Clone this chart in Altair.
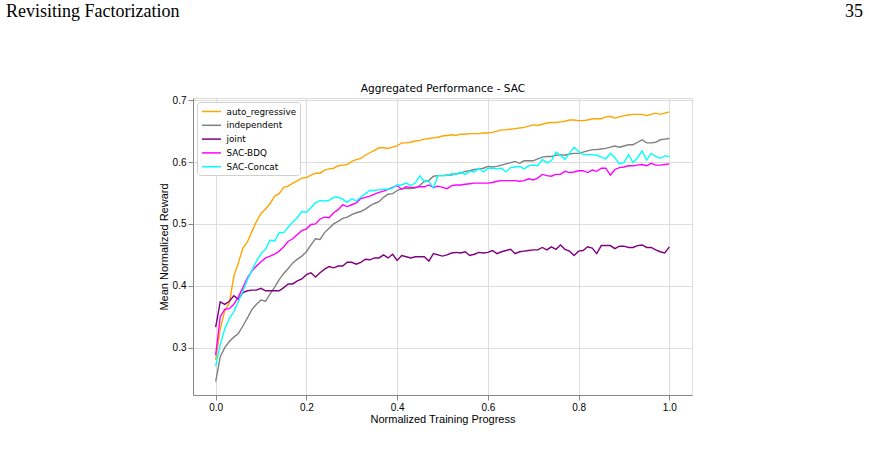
import altair as alt
import pandas as pd

header_left = "Revisiting Factorization"
header_right = "35"
chart_title = "Aggregated Performance - SAC"
x_title = "Normalized Training Progress"
y_title = "Mean Normalized Reward"

series_names = ["auto_regressive", "independent", "joint", "SAC-BDQ", "SAC-Concat"]
series_colors = ["#FFA500", "#808080", "#800080", "#FF00FF", "#00FFFF"]

x_ticks = [0.0, 0.2, 0.4, 0.6, 0.8, 1.0]
y_ticks = [0.3, 0.4, 0.5, 0.6, 0.7]

progress = [i / 100 for i in range(101)]

auto_regressive = [
    0.280, 0.330, 0.360, 0.372, 0.415, 0.437, 0.461, 0.471, 0.488, 0.504,
    0.517, 0.524, 0.533, 0.545, 0.549, 0.559, 0.561, 0.566, 0.570, 0.574,
    0.575, 0.579, 0.582, 0.582, 0.587, 0.589, 0.590, 0.594, 0.595, 0.596,
    0.601, 0.604, 0.606, 0.611, 0.615, 0.619, 0.623, 0.623, 0.622, 0.624,
    0.626, 0.631, 0.631, 0.632, 0.634, 0.635, 0.637, 0.638, 0.639, 0.640,
    0.642, 0.643, 0.644, 0.643, 0.645, 0.645, 0.646, 0.646, 0.646, 0.647,
    0.647, 0.648, 0.650, 0.652, 0.652, 0.653, 0.654, 0.655, 0.656, 0.658,
    0.660, 0.659, 0.661, 0.663, 0.664, 0.664, 0.665, 0.666, 0.668, 0.668,
    0.667, 0.667, 0.668, 0.670, 0.670, 0.670, 0.673, 0.674, 0.671, 0.673,
    0.675, 0.676, 0.677, 0.677, 0.677, 0.675, 0.677, 0.679, 0.677, 0.679,
    0.681,
]
independent = [
    0.245, 0.285, 0.300, 0.310, 0.317, 0.323, 0.335, 0.348, 0.362, 0.370,
    0.377, 0.375, 0.387, 0.398, 0.410, 0.420, 0.428, 0.437, 0.443, 0.448,
    0.455, 0.466, 0.476, 0.475, 0.486, 0.493, 0.500, 0.504, 0.509, 0.511,
    0.515, 0.518, 0.520, 0.524, 0.529, 0.533, 0.536, 0.543, 0.548, 0.549,
    0.554, 0.557, 0.557, 0.557, 0.558, 0.562, 0.569, 0.570, 0.577, 0.578,
    0.578, 0.579, 0.579, 0.581, 0.582, 0.585, 0.586, 0.588, 0.589, 0.590,
    0.593, 0.592, 0.593, 0.595, 0.597, 0.599, 0.601, 0.598, 0.602, 0.602,
    0.602, 0.605, 0.608, 0.609, 0.609, 0.611, 0.612, 0.611, 0.613, 0.614,
    0.614, 0.616, 0.618, 0.620, 0.620, 0.621, 0.622, 0.624, 0.626, 0.624,
    0.626, 0.628, 0.628, 0.632, 0.636, 0.631, 0.631, 0.632, 0.636, 0.637,
    0.638,
]
joint = [
    0.333, 0.374, 0.370, 0.375, 0.384, 0.378, 0.389, 0.392, 0.393, 0.393,
    0.396, 0.392, 0.392, 0.392, 0.392, 0.397, 0.403, 0.403, 0.408, 0.411,
    0.418, 0.421, 0.414, 0.421, 0.427, 0.431, 0.429, 0.432, 0.432, 0.438,
    0.438, 0.435, 0.438, 0.443, 0.442, 0.445, 0.445, 0.450, 0.445, 0.451,
    0.441, 0.449, 0.447, 0.445, 0.447, 0.447, 0.447, 0.440, 0.452, 0.450,
    0.448, 0.450, 0.453, 0.454, 0.453, 0.455, 0.449, 0.451, 0.454, 0.453,
    0.454, 0.457, 0.452, 0.455, 0.457, 0.459, 0.452, 0.455, 0.456, 0.457,
    0.458, 0.458, 0.462, 0.458, 0.463, 0.459, 0.466, 0.459, 0.456, 0.449,
    0.456, 0.457, 0.463, 0.461, 0.452, 0.465, 0.465, 0.465, 0.460, 0.464,
    0.464, 0.462, 0.462, 0.465, 0.466, 0.462, 0.462, 0.458, 0.455, 0.453,
    0.463,
]
sac_bdq = [
    0.288, 0.350, 0.362, 0.363, 0.370, 0.382, 0.397, 0.413, 0.424, 0.432,
    0.439, 0.445, 0.448, 0.451, 0.456, 0.463, 0.472, 0.476, 0.483, 0.489,
    0.492, 0.499, 0.500, 0.508, 0.511, 0.510, 0.518, 0.523, 0.531, 0.528,
    0.531, 0.534, 0.541, 0.543, 0.545, 0.548, 0.551, 0.553, 0.556, 0.559,
    0.562, 0.556, 0.560, 0.559, 0.559, 0.560, 0.560, 0.563, 0.559, 0.561,
    0.559, 0.557, 0.562, 0.563, 0.563, 0.564, 0.565, 0.566, 0.566, 0.566,
    0.566, 0.567, 0.569, 0.570, 0.570, 0.570, 0.570, 0.569, 0.570, 0.573,
    0.571, 0.574, 0.580, 0.578, 0.577, 0.580, 0.580, 0.585, 0.583, 0.584,
    0.586, 0.586, 0.583, 0.587, 0.585, 0.590, 0.590, 0.579, 0.588, 0.591,
    0.592, 0.594, 0.594, 0.595, 0.596, 0.594, 0.598, 0.595, 0.595, 0.596,
    0.597,
]
sac_concat = [
    0.270, 0.305, 0.330, 0.347, 0.358, 0.375, 0.391, 0.410, 0.425, 0.440,
    0.452, 0.459, 0.474, 0.472, 0.486, 0.486, 0.495, 0.503, 0.510, 0.520,
    0.519, 0.526, 0.534, 0.538, 0.537, 0.538, 0.543, 0.543, 0.540, 0.535,
    0.541, 0.537, 0.543, 0.549, 0.554, 0.554, 0.555, 0.556, 0.556, 0.558,
    0.563, 0.563, 0.566, 0.562, 0.566, 0.578, 0.568, 0.569, 0.558, 0.578,
    0.578, 0.578, 0.581, 0.580, 0.584, 0.580, 0.585, 0.584, 0.590, 0.584,
    0.590, 0.590, 0.589, 0.590, 0.584, 0.591, 0.592, 0.593, 0.589, 0.594,
    0.595, 0.594, 0.604, 0.599, 0.602, 0.616, 0.611, 0.604, 0.614, 0.624,
    0.617, 0.612, 0.612, 0.612, 0.611, 0.608, 0.605, 0.614, 0.607, 0.597,
    0.599, 0.612, 0.599, 0.607, 0.618, 0.603, 0.614, 0.609, 0.606, 0.610,
    0.609,
]

all_series = [auto_regressive, independent, joint, sac_bdq, sac_concat]

rows = []
for order, (name, vals) in enumerate(zip(series_names, all_series)):
    for p, v in zip(progress, vals):
        rows.append({"progress": p, "reward": v, "series": name, "ord": order})
df = pd.DataFrame(rows)

FONT = "DejaVu Sans"

lines = alt.Chart(df).mark_line(strokeWidth=1.4, clip=True).encode(
    x=alt.X(
        "progress:Q",
        scale=alt.Scale(domain=[-0.05, 1.05], nice=False, zero=False),
        axis=alt.Axis(values=x_ticks, format=".1f", title=x_title,
                      titleFontWeight=400, titlePadding=1),
    ),
    y=alt.Y(
        "reward:Q",
        scale=alt.Scale(domain=[0.2235, 0.7035], nice=False, zero=False),
        axis=alt.Axis(values=y_ticks, format=".1f", title=y_title,
                      titleFontWeight=400, titlePadding=3),
    ),
    color=alt.Color(
        "series:N",
        scale=alt.Scale(domain=series_names, range=series_colors),
        sort=series_names,
        legend=alt.Legend(
            title=None,
            orient="top-left",
            offset=4,
            padding=3.5,
            strokeColor="#d0d0d0",
            fillColor="white",
            cornerRadius=3,
            symbolType="M-0.9,0H2.9",
            symbolSize=100,
            symbolStrokeWidth=1.5,
            labelFont=FONT,
            labelFontSize=8.8,
            labelColor="black",
            rowPadding=2.8,
            labelOffset=14,
        ),
    ),
    detail="ord:O",
)

hdr_l = alt.Chart(pd.DataFrame({"t": [header_left]})).mark_text(
    align="left", baseline="middle", font="Liberation Serif", fontSize=18, color="black"
).encode(x=alt.value(6 - 193), y=alt.value(12 - 98), text="t:N")

hdr_r = alt.Chart(pd.DataFrame({"t": [header_right]})).mark_text(
    align="right", baseline="middle", font="Liberation Serif", fontSize=18, color="black"
).encode(x=alt.value(863 - 193), y=alt.value(12 - 98), text="t:N")

ttl = alt.Chart(pd.DataFrame({"t": [chart_title]})).mark_text(
    align="center", baseline="middle", font=FONT, fontSize=10.6, color="black"
).encode(x=alt.value(443 - 193), y=alt.value(89 - 98), text="t:N")

chart = alt.layer(lines, hdr_l, hdr_r, ttl).properties(
    width=499,
    height=297,
    autosize=alt.AutoSizeParams(type="none"),
    padding={"left": 193, "top": 98, "right": 177, "bottom": 69},
).configure_view(
    stroke="#333333", strokeWidth=0.9
).configure_axis(
    labelFont=FONT, labelFontSize=8.8, labelColor="black",
    titleFont=FONT, titleFontSize=8.8, titleColor="black",
    tickColor="#333333", tickSize=3.5, domain=False,
    gridColor="#e6e6e6", gridWidth=0.8,
    labelPadding=3,
).configure(background="white")

chart.save("out.html", embed_options={"renderer": "svg", "actions": False})
